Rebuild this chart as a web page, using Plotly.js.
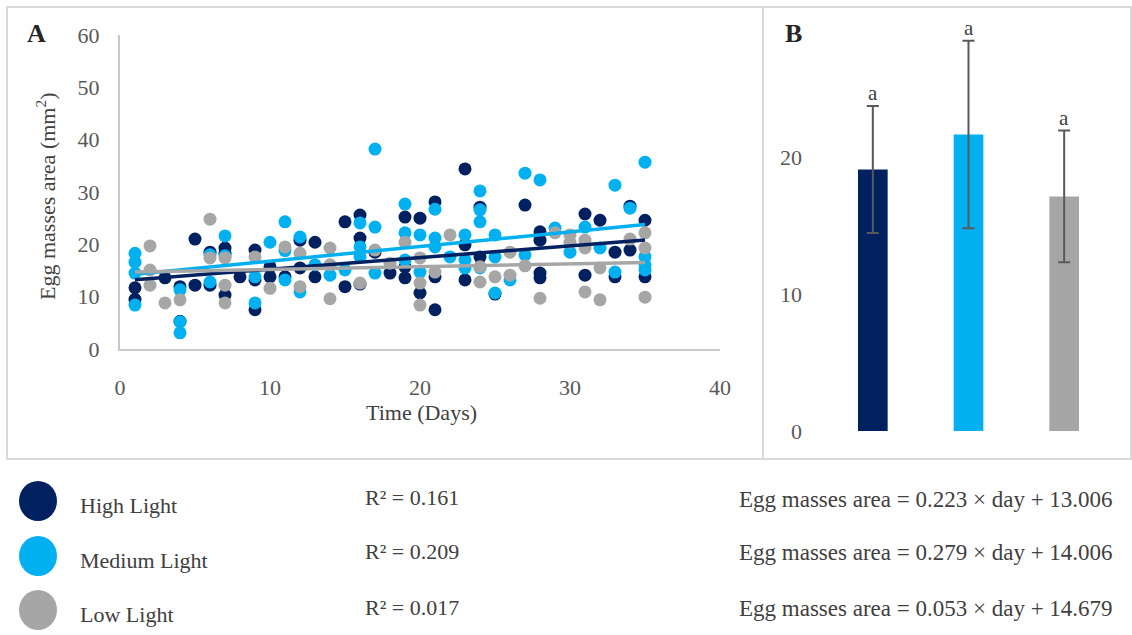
<!DOCTYPE html>
<html>
<head>
<meta charset="utf-8">
<script src="https://cdn.plot.ly/plotly-3.0.1.min.js"></script>
<style>html,body{margin:0;padding:0;background:#fff;}#chart{width:1132px;height:635px;}</style>
</head>
<body>
<div id="chart"></div>
<script>
// ---- Data ----
const seriesNames = ["High Light", "Medium Light", "Low Light"];
const seriesColors = ["#002060", "#00B0F0", "#A6A6A6"];

const highDays = [1,1,3,4,4,5,5,6,6,7,7,7,8,9,9,9,10,10,11,12,12,13,13,15,15,16,16,16,17,18,19,19,19,20,20,21,21,21,23,23,23,24,24,25,27,28,28,28,28,31,31,32,33,33,34,34,35,35];
const highArea = [11.7,9.5,13.6,11.9,5.3,21.0,12.2,18.5,12.2,19.3,18.3,10.3,13.8,18.9,13.2,7.5,15.7,13.8,13.8,20.8,15.5,20.4,13.8,24.3,11.9,25.6,21.2,12.4,18.5,14.5,25.2,15.7,13.6,25.0,10.7,28.1,13.8,7.5,34.4,19.9,13.2,27.1,17.6,10.5,27.5,22.4,20.8,14.5,13.6,25.8,14.1,24.6,18.5,13.8,27.3,18.9,24.6,13.8];

const mediumDays = [1,1,1,1,4,4,4,6,6,7,7,9,9,10,11,11,11,12,12,13,14,15,16,16,16,17,17,17,19,19,19,20,20,21,21,21,22,23,23,23,24,24,24,24,25,25,25,26,27,27,28,29,30,31,32,33,33,34,35,35,35,35];
const mediumArea = [18.3,16.6,14.5,8.4,11.3,5.2,3.1,18.0,12.8,21.6,17.8,13.8,8.8,20.4,24.3,18.8,13.2,21.4,10.9,16.1,14.1,15.1,24.1,19.5,17.6,38.2,23.3,14.5,27.7,22.2,17.0,21.8,14.7,26.7,21.2,19.5,17.6,21.8,17.0,15.5,30.2,26.6,24.3,15.5,21.8,17.6,10.7,13.2,33.6,18.0,32.3,23.1,18.5,23.3,19.3,31.3,14.7,26.9,35.7,17.6,16.1,15.1];

const lowDays = [2,2,2,3,4,6,6,7,7,7,9,10,11,12,12,14,14,14,16,17,18,19,20,20,20,21,22,24,24,25,26,26,27,28,29,30,30,31,31,31,32,32,34,35,35,35];
const lowArea = [19.7,15.1,12.2,8.8,9.4,24.8,17.4,17.4,12.2,8.8,17.6,11.6,19.5,18.3,11.9,19.3,16.1,9.6,12.6,18.9,16.4,20.4,17.4,12.6,8.4,14.7,21.8,15.7,12.8,13.8,18.5,14.1,15.9,9.7,22.2,21.8,20.4,20.8,19.3,10.9,15.5,9.4,21.0,22.2,19.3,9.9];

// Regression (as printed on the chart)
const slopes = [0.223, 0.279, 0.053];
const intercepts = [13.006, 14.006, 14.679];
const rSquared = ["0.161", "0.209", "0.017"];
const trendRange = [1, 35];

// Panel B: means and error
const barMeans = [19.13, 21.69, 17.16];
const barErrors = [4.65, 6.86, 4.82];
const barLetters = ["a", "a", "a"];

// ---- Build ----
const W = 1132, H = 635;
const px = x => x / W;
const py = y => 1 - y / H;
const FONT = "Liberation Serif, DejaVu Serif, serif";
const TXT = "#404040";
const TICK = "#595959";

const scatterSets = [[highDays, highArea], [mediumDays, mediumArea], [lowDays, lowArea]];
const traces = [];
scatterSets.forEach((s, i) => {
  traces.push({
    type: "scatter", mode: "markers", x: s[0], y: s[1],
    marker: {color: seriesColors[i], size: 13, line: {width: 0}},
    xaxis: "x", yaxis: "y", showlegend: false, hoverinfo: "x+y"
  });
});
slopes.forEach((m, i) => {
  traces.push({
    type: "scatter", mode: "lines",
    x: trendRange, y: trendRange.map(d => m * d + intercepts[i]),
    line: {color: seriesColors[i], width: 3.5},
    xaxis: "x", yaxis: "y", showlegend: false, hoverinfo: "skip"
  });
});
traces.push({
  type: "bar", x: [0, 1, 2], y: barMeans,
  marker: {color: seriesColors}, width: 0.31,
  error_y: {type: "data", array: barErrors, visible: true, color: "#595959", thickness: 2, width: 6},
  xaxis: "x2", yaxis: "y2", showlegend: false
});

const annotations = [];
annotations.push({xref: "paper", yref: "paper", x: px(36), y: py(33), text: "<b>A</b>", showarrow: false,
  font: {family: FONT, size: 26, color: "#262626"}, xanchor: "center", yanchor: "middle"});
annotations.push({xref: "paper", yref: "paper", x: px(793), y: py(33), text: "<b>B</b>", showarrow: false,
  font: {family: FONT, size: 26, color: "#262626"}, xanchor: "center", yanchor: "middle"});
annotations.push({xref: "paper", yref: "paper", x: px(421), y: py(412), text: "Time (Days)", showarrow: false,
  font: {family: FONT, size: 22, color: TXT}, xanchor: "center", yanchor: "middle"});
annotations.push({xref: "paper", yref: "paper", x: px(46), y: py(197), text: "Egg masses area (mm<sup>2</sup>)", showarrow: false,
  textangle: -90, font: {family: FONT, size: 22, color: TXT}, xanchor: "center", yanchor: "middle"});

barMeans.forEach((v, i) => {
  annotations.push({xref: "x2", yref: "y2", x: i, y: v + barErrors[i], text: barLetters[i], showarrow: false,
    yanchor: "bottom", yshift: -1, font: {family: FONT, size: 21, color: TXT}});
});

const legendY = [501, 556, 610];
const rY = [497, 551, 607];
const eqY = [499, 552, 608];
const shapes = [];
seriesNames.forEach((n, i) => {
  shapes.push({type: "circle", xref: "paper", yref: "paper",
    x0: px(19), x1: px(57), y0: py(legendY[i] + 20), y1: py(legendY[i] - 20),
    fillcolor: seriesColors[i], line: {width: 0}});
  annotations.push({xref: "paper", yref: "paper", x: px(78), y: py(legendY[i] + 4), text: n, showarrow: false,
    xanchor: "left", yanchor: "middle", font: {family: FONT, size: 22, color: TXT}});
  annotations.push({xref: "paper", yref: "paper", x: px(412), y: py(rY[i]), text: "R² = " + rSquared[i], showarrow: false,
    xanchor: "center", yanchor: "middle", font: {family: FONT, size: 22, color: TXT}});
  annotations.push({xref: "paper", yref: "paper", x: px(1115), y: py(eqY[i]),
    text: "Egg masses area = " + slopes[i].toFixed(3) + " × day + " + intercepts[i].toFixed(3), showarrow: false,
    xanchor: "right", yanchor: "middle", font: {family: FONT, size: 23, color: TXT}});
});

// panel borders
shapes.push({type: "rect", xref: "paper", yref: "paper", x0: px(7), x1: px(1131), y0: py(459), y1: py(7),
  line: {color: "#d9d9d9", width: 2}, layer: "below"});
shapes.push({type: "line", xref: "paper", yref: "paper", x0: px(763), x1: px(763), y0: py(459), y1: py(7),
  line: {color: "#d9d9d9", width: 2}, layer: "below"});

const layout = {
  width: W, height: H, margin: {l: 0, r: 0, t: 0, b: 0},
  paper_bgcolor: "#ffffff", plot_bgcolor: "rgba(0,0,0,0)",
  font: {family: FONT, color: TICK},
  xaxis: {domain: [px(120), px(720)], range: [0, 40], dtick: 10, showgrid: false, zeroline: false,
    showline: true, linecolor: "#c8c8c8", linewidth: 2, ticks: "", ticklabelstandoff: 18,
    tickfont: {family: FONT, size: 22, color: TICK}, anchor: "y", fixedrange: true},
  yaxis: {domain: [py(349), py(35)], range: [0, 60], dtick: 10, showgrid: false, zeroline: false,
    showline: true, linecolor: "#c8c8c8", linewidth: 2, ticks: "", ticklabelstandoff: 14,
    tickfont: {family: FONT, size: 22, color: TICK}, anchor: "x", fixedrange: true},
  xaxis2: {domain: [px(825), px(1112)], range: [-0.5, 2.5], showticklabels: false, showgrid: false,
    zeroline: false, showline: false, ticks: "", anchor: "y2", fixedrange: true},
  yaxis2: {domain: [py(431), py(21)], range: [0, 30], tickvals: [0, 10, 20], showgrid: false, zeroline: false,
    showline: false, ticks: "", ticklabelstandoff: 22,
    tickfont: {family: FONT, size: 22, color: TICK}, anchor: "x2", fixedrange: true},
  shapes: shapes, annotations: annotations, showlegend: false
};

Plotly.newPlot("chart", traces, layout, {displayModeBar: false, staticPlot: true});
</script>
</body>
</html>
